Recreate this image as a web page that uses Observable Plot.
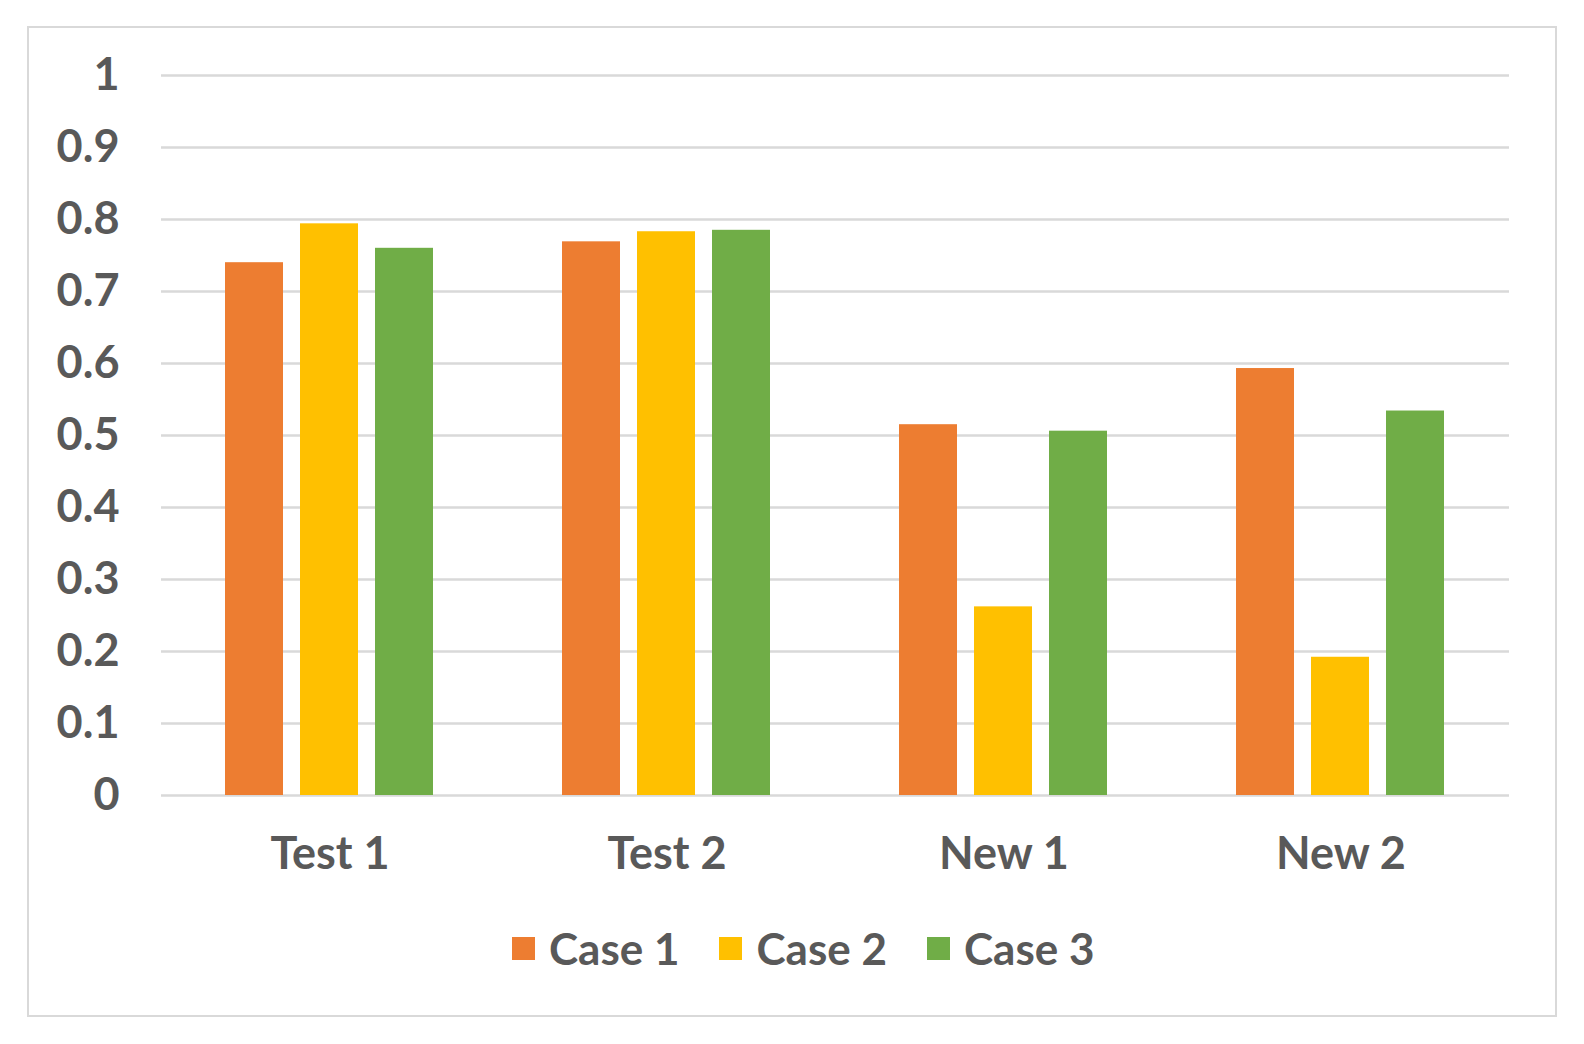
<!DOCTYPE html>
<html>
<head>
<meta charset="utf-8">
<script src="https://cdn.jsdelivr.net/npm/d3@7"></script>
<script src="https://cdn.jsdelivr.net/npm/@observablehq/plot@0.6"></script>
<style>
  html, body { margin: 0; padding: 0; background: #fff; }
  #wrap { position: relative; width: 1584px; height: 1044px; font-family: Lato, "Open Sans", sans-serif; }
  #frame { position: absolute; left: 27px; top: 26px; width: 1526px; height: 987px; border: 2px solid #d9d9d9; pointer-events: none; }
  #chart { position: absolute; left: 0; top: 0; }
  #legend { position: absolute; left: 512px; top: 924px; display: flex; align-items: center; color: #595959; font-size: 44px; font-weight: 700; line-height: 48px; }
  .item { display: flex; align-items: center; margin-right: 40px; }
  .sw { width: 23px; height: 23px; margin-right: 14px; }
</style>
</head>
<body>
<div id="wrap">
  <div id="chart"></div>
  <div id="legend"></div>
  <div id="frame"></div>
</div>
<script>
const categories = ["Test 1", "Test 2", "New 1", "New 2"];
const seriesNames = ["Case 1", "Case 2", "Case 3"];
const case1 = [0.740, 0.769, 0.515, 0.593];
const case2 = [0.794, 0.783, 0.262, 0.192];
const case3 = [0.760, 0.785, 0.506, 0.534];
const colors = ["#ED7D31", "#FFC000", "#70AD47"];
const yTicks = [0, 0.1, 0.2, 0.3, 0.4, 0.5, 0.6, 0.7, 0.8, 0.9, 1];

const seriesValues = [case1, case2, case3];
const data = [];
categories.forEach((c, i) => {
  seriesNames.forEach((s, j) => data.push({category: c, series: s, value: seriesValues[j][i]}));
});

const chart = Plot.plot({
  width: 1584,
  height: 900,
  marginLeft: 161,
  marginRight: 75,
  marginTop: 75,
  marginBottom: 105,
  style: {fontFamily: "Lato, 'Open Sans', sans-serif", fontSize: "45px", fontWeight: 700, color: "#595959", background: "transparent"},
  fx: {domain: categories, padding: 0, axis: "bottom", tickSize: 0, tickPadding: 42, label: null},
  x: {domain: seriesNames, paddingInner: 0.225, paddingOuter: 0.85, axis: null},
  y: {domain: [0, 1], ticks: yTicks, tickSize: 0, tickPadding: 42, label: null, tickFormat: d => String(+d.toFixed(1))},
  color: {domain: seriesNames, range: colors},
  marks: [
    Plot.ruleY(yTicks, {stroke: "#d9d9d9", strokeWidth: 2.5}),
    Plot.barY(data, {fx: "category", x: "series", y: "value", fill: "series"})
  ]
});
document.getElementById("chart").appendChild(chart);

const legend = document.getElementById("legend");
seriesNames.forEach((s, j) => {
  const it = document.createElement("div");
  it.className = "item";
  const sw = document.createElement("div");
  sw.className = "sw";
  sw.style.background = colors[j];
  const t = document.createElement("span");
  t.textContent = s;
  it.appendChild(sw);
  it.appendChild(t);
  legend.appendChild(it);
});
</script>
</body>
</html>
